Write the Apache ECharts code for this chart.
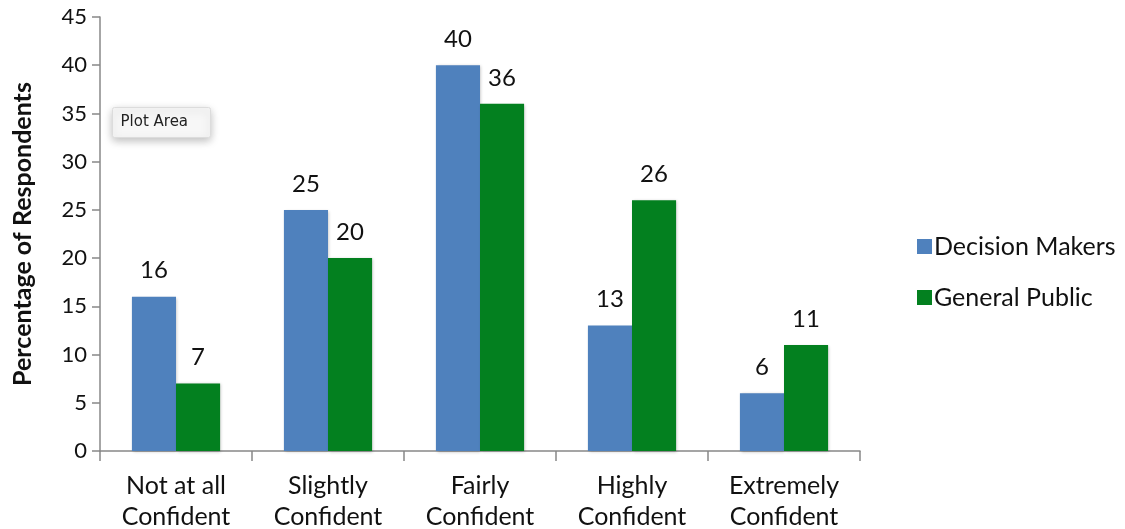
<!DOCTYPE html>
<html><head><meta charset="utf-8">
<script src="https://cdn.jsdelivr.net/npm/echarts@6/dist/echarts.min.js"></script>
<style>html,body{margin:0;padding:0;background:#fff}#c{width:1125px;height:529px}</style>
</head><body><div id="c"></div>
<script>
const categories = ['Not at all\nConfident','Slightly\nConfident','Fairly\nConfident','Highly\nConfident','Extremely\nConfident'];
const decisionMakers = [16,25,40,13,6];
const generalPublic = [7,20,36,26,11];
const seriesNames = ['Decision Makers','General Public'];
const yTitle = 'Percentage of Respondents';
const FONT = 'Lato, "Open Sans", sans-serif';
const chart = echarts.init(document.getElementById('c'));
const lbl = {show:true, position:'top', distance:14, fontSize:24, color:'#111', fontFamily:FONT};
chart.setOption({
  animation:false,
  grid:{left:100, right:265, top:17, bottom:78, containLabel:false, outerBoundsMode:'none'},
  legend:{orient:'vertical', left:912, top:229, itemWidth:15, itemHeight:15, itemGap:26,
    textStyle:{fontSize:25, color:'#111', fontFamily:FONT, padding:[0,0,0,-3]}, icon:'rect'},
  xAxis:{type:'category', data:categories,
    axisLine:{lineStyle:{color:'#888', width:1.5}},
    axisTick:{show:true, length:10, lineStyle:{color:'#888', width:1.5}},
    axisLabel:{fontSize:25, color:'#111', fontFamily:FONT, lineHeight:31, margin:19}},
  yAxis:{type:'value', min:0, max:45, interval:5, name:yTitle, nameLocation:'middle', nameGap:65,
    nameTextStyle:{fontSize:25, fontWeight:'bold', color:'#111', fontFamily:FONT},
    axisLine:{show:true, lineStyle:{color:'#888', width:1.5}},
    axisTick:{show:true, length:8, inside:false, lineStyle:{color:'#888', width:1.5}},
    axisLabel:{fontSize:22, color:'#111', fontFamily:FONT, margin:13},
    splitLine:{show:false}},
  series:[
    {name:seriesNames[0], type:'bar', data:decisionMakers, barGap:'0%', barCategoryGap:'42%',
     itemStyle:{color:'#4F81BD', shadowColor:'rgba(0,0,0,0.25)', shadowBlur:3, shadowOffsetX:1, shadowOffsetY:1}, label:lbl},
    {name:seriesNames[1], type:'bar', data:generalPublic,
     itemStyle:{color:'#03801F', shadowColor:'rgba(0,0,0,0.25)', shadowBlur:3, shadowOffsetX:1, shadowOffsetY:1}, label:lbl}
  ],
  graphic:[{type:'group', left:112, top:107, children:[
    {type:'rect', shape:{x:0,y:0,width:98,height:30, r:2},
     style:{fill:'#f7f7f7', stroke:'#dcdcdc', lineWidth:1, shadowBlur:8, shadowColor:'rgba(0,0,0,0.25)', shadowOffsetY:3}},
    {type:'text', x:8, y:7, style:{text:'Plot Area', fontSize:15, fill:'#222', fontFamily:'"DejaVu Sans", sans-serif'}}
  ]}]
});
</script></body></html>
